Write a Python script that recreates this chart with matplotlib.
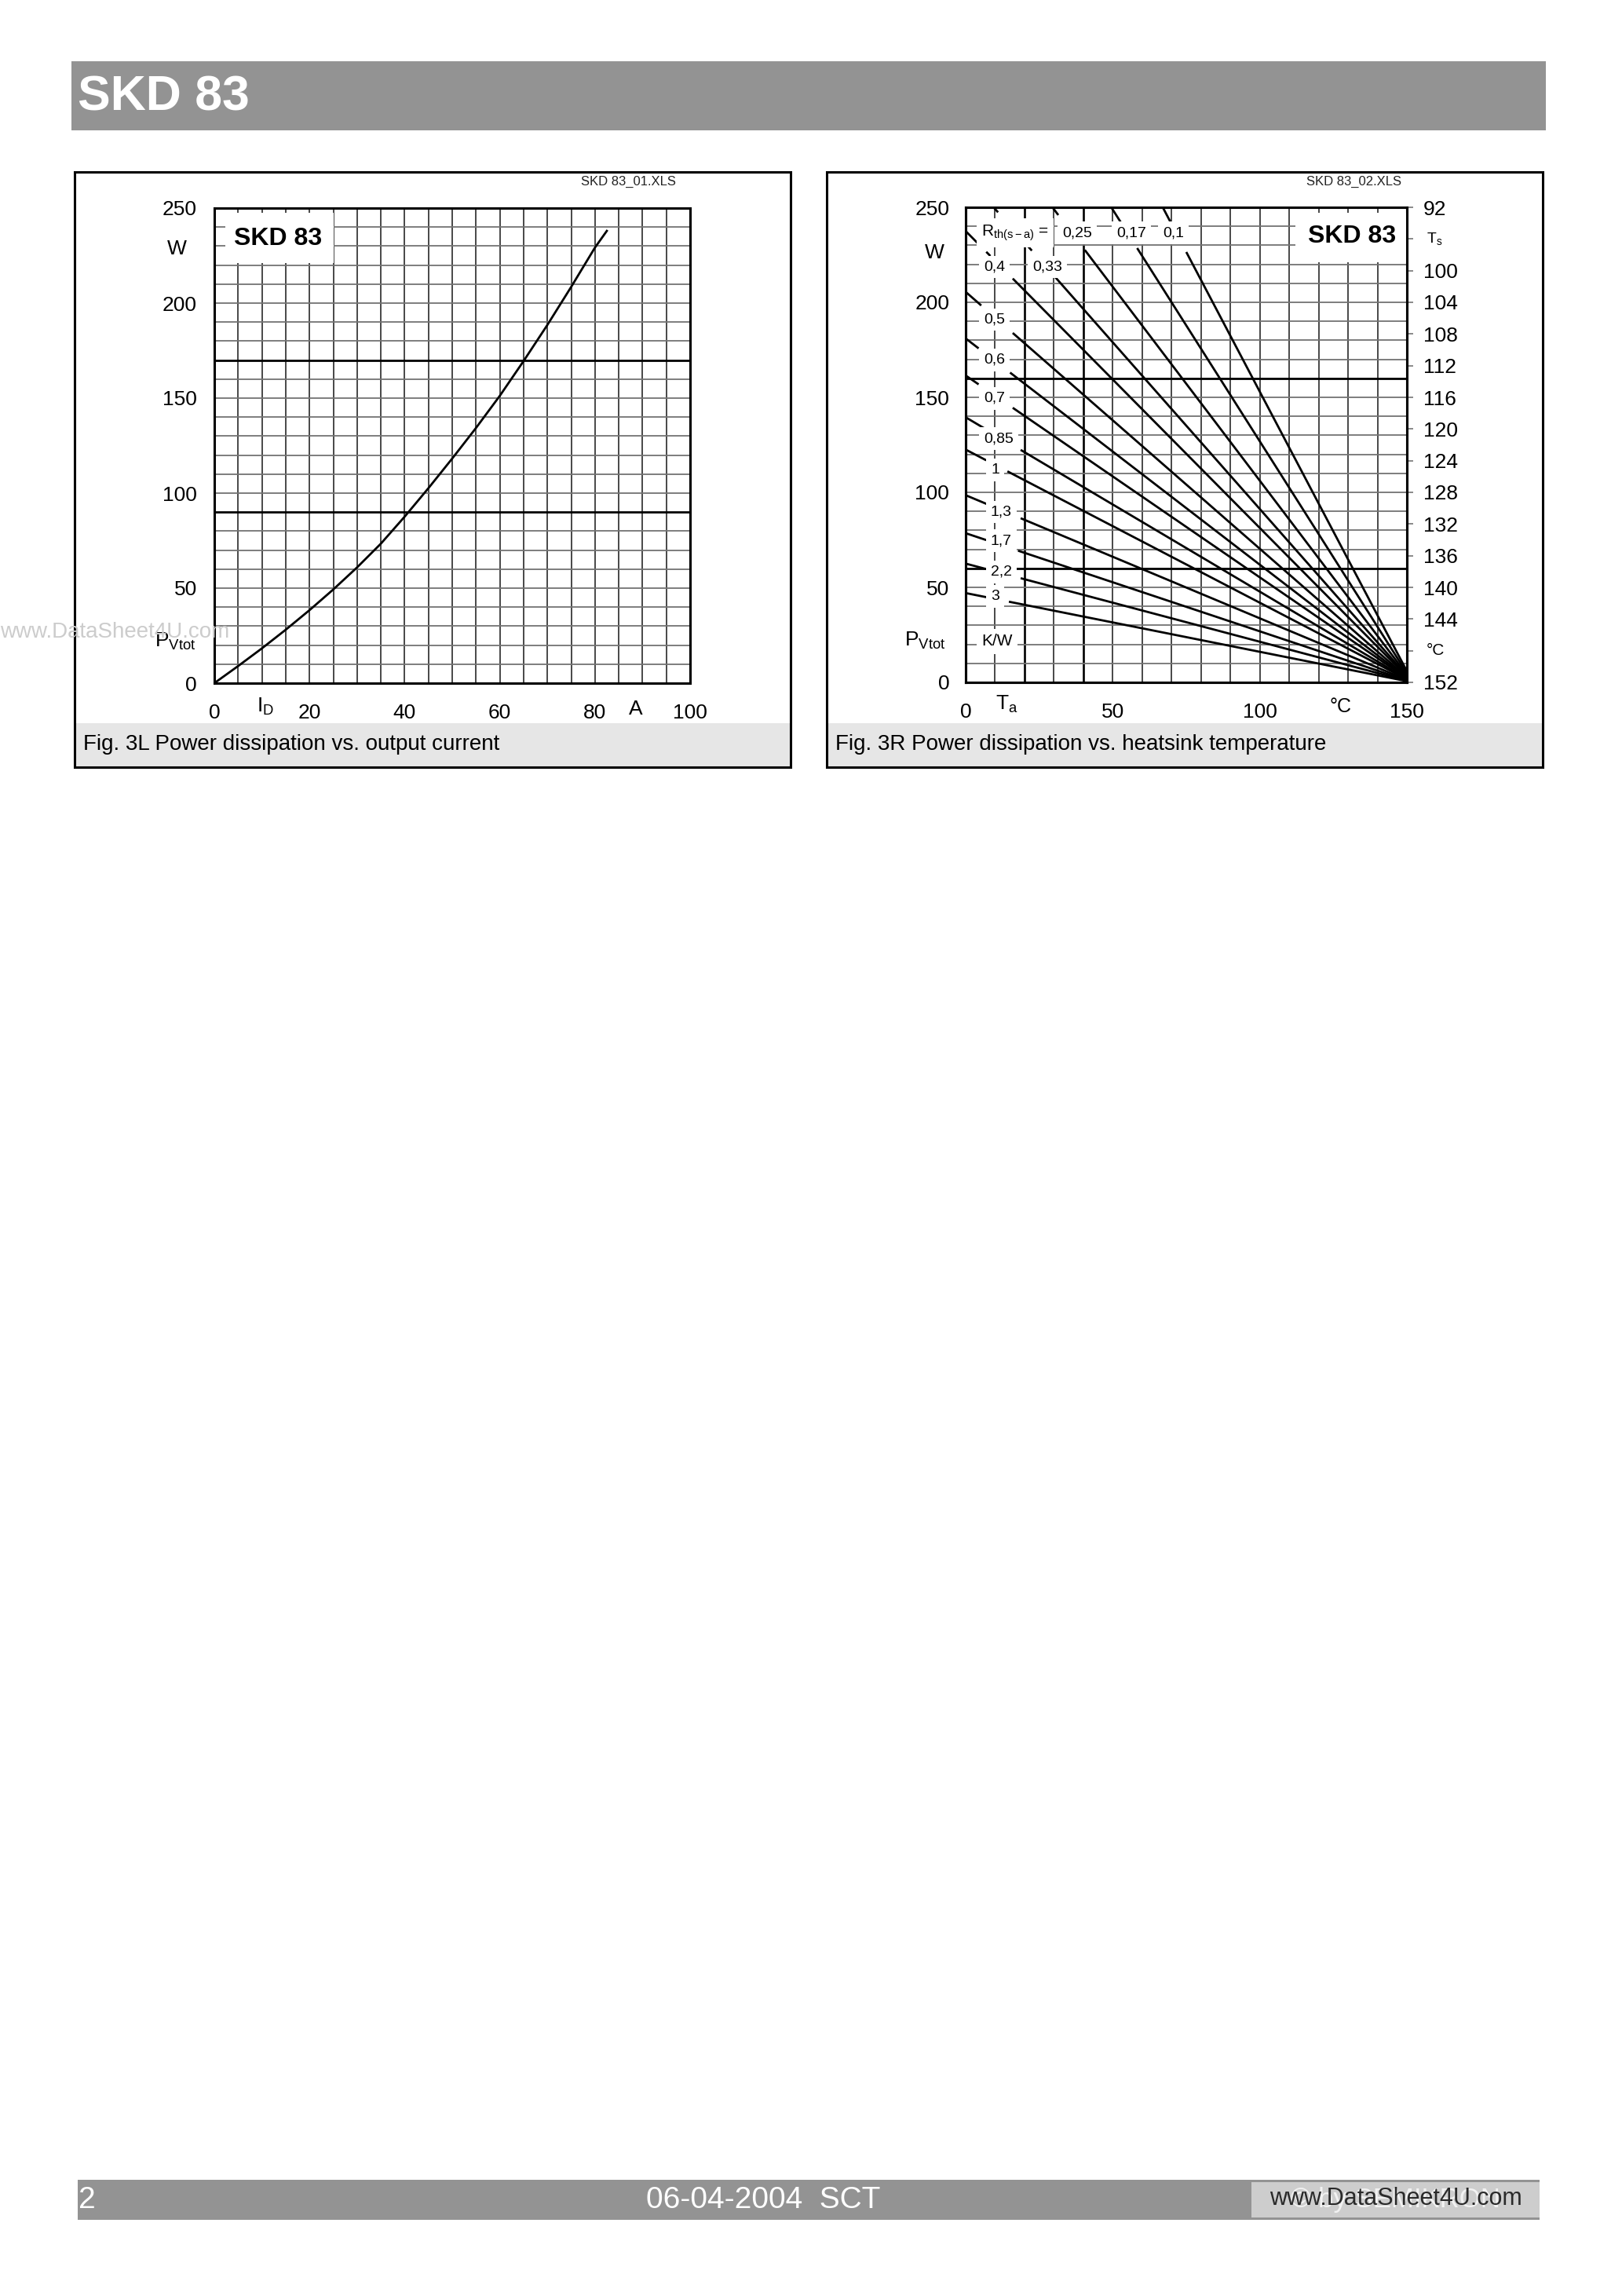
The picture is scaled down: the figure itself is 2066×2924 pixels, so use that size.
import matplotlib
matplotlib.use('Agg')
import matplotlib.pyplot as plt
import numpy as np
from matplotlib.patches import Rectangle

plt.rcParams['font.family'] = ['Liberation Sans', 'DejaVu Sans']
plt.rcParams['mathtext.fontset'] = 'custom'
plt.rcParams['mathtext.rm'] = 'Liberation Sans'
plt.rcParams['mathtext.it'] = 'Liberation Sans'
plt.rcParams['mathtext.bf'] = 'Liberation Sans:bold'

# Fig. 3L  power dissipation vs. output current
current_a = [0, 5, 10, 15, 20, 25, 30, 35, 40, 45, 50, 55, 60, 65, 70, 75, 80, 82.5]
power_w = [0, 9, 18.3, 28.1, 38.4, 49.3, 60.9, 73.4, 87.6, 102.6, 118.2, 134.3,
           151.2, 169.5, 188.5, 208.5, 229.2, 238]

# Fig. 3R  power dissipation vs. heatsink temperature (straight lines)
rth_labels = ['3', '2,2', '1,7', '1,3', '1', '0,85', '0,7', '0,6', '0,5', '0,4',
              '0,33', '0,25', '0,17', '0,1']
ta_start = [0, 0, 0, 0, 0, 0, 0, 0, 0, 0, 9.5, 29.5, 49.5, 67]
p_start = [47, 62.5, 78.5, 98.5, 122.5, 139.5, 161.5, 181, 205.5, 237.5, 250, 250, 250, 250]
ta_meet, p_meet = 152, 0

ts_ticks = list(range(92, 153, 4))
ts_ticklabels = ['92', '', '100', '104', '108', '112', '116', '120', '124', '128',
                 '132', '136', '140', '144', '', '152']

W, H = 2066, 2924
fig = plt.figure(figsize=(W / 100, H / 100), dpi=100)


def px_axes(x0, y0, x1, y1):
    return fig.add_axes([x0 / W, 1 - y1 / H, (x1 - x0) / W, (y1 - y0) / H])


# page furniture
bg = fig.add_axes([0, 0, 1, 1])
bg.set_xlim(0, W)
bg.set_ylim(H, 0)
bg.axis('off')
bg.add_patch(Rectangle((91, 78), 1878, 88, fc='#939393', ec='none'))
bg.text(99, 124, 'SKD 83', color='white', fontsize=45, fontweight='bold', va='center')

for x0, cap in [(95, 'Fig. 3L Power dissipation vs. output current'),
                (1053, 'Fig. 3R Power dissipation vs. heatsink temperature')]:
    bg.add_patch(Rectangle((x0 + 1, 921), 910, 55, fc='#e6e6e6', ec='none'))
    bg.add_patch(Rectangle((x0, 219), 912, 758, fc='none', ec='black', lw=2.2))
    bg.text(x0 + 11, 948, cap, fontsize=20, va='center')
bg.text(861, 231, 'SKD 83_01.XLS', fontsize=12, ha='right', va='center', color='#222222')
bg.text(1785, 231, 'SKD 83_02.XLS', fontsize=12, ha='right', va='center', color='#222222')

bg.add_patch(Rectangle((99, 2776), 1862, 51, fc='#939393', ec='none'))
bg.add_patch(Rectangle((1594, 2779), 367, 45, fc='#cdcdcd', ec='none'))
bg.text(100, 2802, '2', color='white', fontsize=28, va='center')
bg.text(972, 2802, '06-04-2004  SCT', color='white', fontsize=28, va='center', ha='center')
bg.text(1778, 2802, '© by SEMIKRON', color='#f2f2f2', fontsize=25, va='center', ha='center')
bg.text(1778, 2800, 'www.DataSheet4U.com', color='#2a2a2a', fontsize=22, va='center', ha='center')


def grid(ax, xs, ys, dark_x, dark_y):
    for x in xs:
        dark = x in dark_x
        ax.axvline(x, color='black' if dark else '#474747', lw=1.9 if dark else 1.4, zorder=1)
    for y in ys:
        dark = y in dark_y
        ax.axhline(y, color='black' if dark else '#737373', lw=2.0 if dark else 1.3, zorder=1)
    for s in ax.spines.values():
        s.set_linewidth(2.2)


def side_text(ax, s, y, dx_px, size=19, **kw):
    ax.annotate(s, xy=(0, y), xycoords=('axes fraction', 'data'),
                xytext=(-dx_px * 0.72, 0), textcoords='offset points',
                ha='right', va='center', fontsize=size, **kw)


def under_text(ax, s, x, dy_px, size=19):
    ax.annotate(s, xy=(x, 0), xycoords=('data', 'axes fraction'),
                xytext=(0, -dy_px * 0.72), textcoords='offset points',
                ha='center', va='center', fontsize=size)


# ---------------- left chart ----------------
ax1 = px_axes(273, 265, 879, 870)
ax1.set_xlim(0, 100)
ax1.set_ylim(0, 250)
grid(ax1, range(5, 100, 5), range(10, 250, 10), [], [90, 170])
ax1.set_xticks([0, 20, 40, 60, 80, 100])
ax1.set_yticks([0, 50, 100, 150, 200, 250])
ax1.tick_params(length=0, labelsize=19)
ax1.tick_params(axis='y', pad=16)
ax1.tick_params(axis='x', pad=19)
ax1.plot(current_a, power_w, color='black', lw=2.0, zorder=3)
ax1.add_patch(Rectangle((2.3, 221), 22.7, 26.5, fc='white', ec='none', zorder=2.8))
ax1.text(13.4, 234, 'SKD 83', fontsize=23, fontweight='bold', ha='center', va='center', zorder=4)
side_text(ax1, 'W', 228.5, 35)
side_text(ax1, r'P$_{\mathregular{Vtot}}$', 22, 23)
under_text(ax1, r'I$_{\mathregular{D}}$', 10.8, 30)
under_text(ax1, 'A', 88.6, 33)

# ---------------- right chart ----------------
ax2 = px_axes(1230, 264, 1792, 869)
ax2.set_xlim(0, 150)
ax2.set_ylim(0, 250)
grid(ax2, range(10, 150, 10), range(10, 250, 10), [20, 40], [60, 160])
ax2.set_xticks([0, 50, 100, 150])
ax2.set_yticks([0, 50, 100, 150, 200, 250])
ax2.tick_params(length=0, labelsize=19)
ax2.tick_params(axis='y', pad=15)
ax2.tick_params(axis='x', pad=19)

# label boxes interrupt the lines
gaps = {'3': [(7, 14.7)], '2,2': [(7, 18.7)], '1,7': [(7, 17.8)], '1,3': [(7.5, 18.7)],
        '1': [(7, 14.2)], '0,85': [(6.7, 18.7)], '0,7': [(4.4, 16)], '0,6': [(4.4, 15.1)],
        '0,5': [(5.3, 16)], '0,4': [(4, 7), (8.4, 16)], '0,33': [(11, 20), (22.5, 30.5)],
        '0,25': [(31.5, 40.5)], '0,17': [(53, 58.3)], '0,1': [(70.5, 75)]}
for lab, t0, p0 in zip(rth_labels, ta_start, p_start):
    edges = [t0] + [g for gp in gaps[lab] for g in gp] + [ta_meet]
    for a, b in zip(edges[0::2], edges[1::2]):
        xs = np.array([a, b])
        ys = np.interp(xs, [t0, ta_meet], [p0, p_meet])
        ax2.plot(xs, ys, color='black', lw=2.0, zorder=3, solid_capstyle='butt')

box = dict(boxstyle='square,pad=0.3', fc='white', ec='none')
label_pos = [('0,25', 32.8, 236.5, 'left'), ('0,17', 51.2, 236.5, 'left'),
             ('0,1', 67, 236.5, 'left'), ('0,4', 6.2, 218.6, 'left'),
             ('0,33', 22.7, 218.6, 'left'), ('0,5', 6.2, 190.9, 'left'),
             ('0,6', 6.2, 169.7, 'left'), ('0,7', 6.2, 149.4, 'left'),
             ('0,85', 6.2, 128.3, 'left'), ('1', 10, 111.9, 'center'),
             ('1,3', 8.5, 89.7, 'left'), ('1,7', 8.5, 74.5, 'left'),
             ('2,2', 8.5, 58.1, 'left'), ('3', 10, 45.2, 'center')]
for s, x, y, ha in label_pos:
    ax2.text(x, y, s, fontsize=14, ha=ha, va='center', bbox=box, zorder=4)
ax2.text(5.3, 236.5, r'R$_{\mathregular{th(s-a)}}$ =', fontsize=15, ha='left', va='center',
         bbox=box, zorder=4)
ax2.text(5.3, 21.5, 'K/W', fontsize=15, ha='left', va='center', bbox=box, zorder=4)

ax2.add_patch(Rectangle((112, 221), 37.6, 26, fc='white', ec='none', zorder=2.8))
ax2.text(131.3, 234.6, 'SKD 83', fontsize=23, fontweight='bold', ha='center', va='center', zorder=4)
side_text(ax2, 'W', 226, 27)
side_text(ax2, r'P$_{\mathregular{Vtot}}$', 22, 25)
under_text(ax2, r'T$_{\mathregular{a}}$', 14, 28)
under_text(ax2, '°C', 127.5, 31, size=18)

ax3 = ax2.twinx()
ax3.set_ylim(152, 92)
ax3.set_yticks(ts_ticks)
ax3.set_yticklabels(ts_ticklabels)
ax3.tick_params(axis='y', direction='out', length=6, width=1.3, color='#808080',
                labelsize=19, pad=9)
for s in ax3.spines.values():
    s.set_linewidth(2.2)
for s, ts, size in [(r'T$_{\mathregular{s}}$', 96, 14), ('°C', 148, 15)]:
    ax3.annotate(s, xy=(1, ts), xycoords=('axes fraction', 'data'),
                 xytext=(25 * 0.72, 0), textcoords='offset points',
                 ha='left', va='center', fontsize=size)

# watermark
fig.text(0, 1 - 805 / H, 'www.DataSheet4U.com', fontsize=20, color='#cccccc', va='center')

fig.savefig('out.png', dpi=100)
